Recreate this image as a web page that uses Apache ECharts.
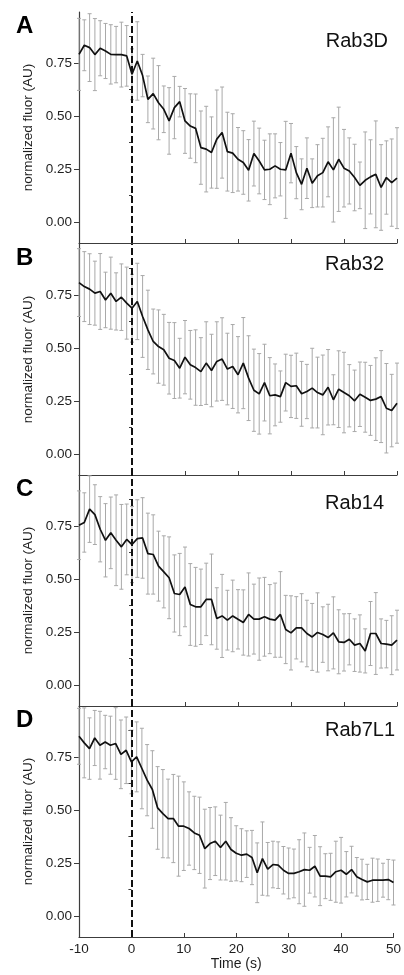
<!DOCTYPE html>
<html>
<head>
<meta charset="utf-8">
<script src="https://cdn.jsdelivr.net/npm/echarts@6/dist/echarts.min.js"></script>
<style>
  html, body { margin: 0; padding: 0; background: #fff; }
  #chart { width: 404px; height: 975px; }
</style>
</head>
<body>
<div id="chart"></div>
<script>
// time points (s)
const TIME = [-10, -9, -8, -7, -6, -5, -4, -3, -2, -1, 0, 1, 2, 3, 4, 5, 6, 7, 8, 9,
  10, 11, 12, 13, 14, 15, 16, 17, 18, 19, 20, 21, 22, 23, 24, 25, 26, 27, 28, 29,
  30, 31, 32, 33, 34, 35, 36, 37, 38, 39, 40, 41, 42, 43, 44, 45, 46, 47, 48, 49, 50]

const X_TICKS = [-10, 0, 10, 20, 30, 40, 50]
const Y_TICKS = [0, 0.25, 0.5, 0.75]
const Y_MINOR = [0.125, 0.375, 0.625, 0.875]

const PANEL_LETTERS = ['A', 'B', 'C', 'D']
const PANEL_NAMES = ['Rab3D', 'Rab32', 'Rab14', 'Rab7L1']

// mean normalized fluorescence
const A_MEAN = [0.79, 0.833, 0.822, 0.789, 0.819, 0.806, 0.79, 0.789, 0.789, 0.783,
  0.696, 0.759, 0.69, 0.578, 0.605, 0.562, 0.531, 0.476, 0.539, 0.567,
  0.476, 0.452, 0.441, 0.35, 0.343, 0.327, 0.39, 0.421, 0.331, 0.324,
  0.295, 0.28, 0.243, 0.322, 0.287, 0.245, 0.248, 0.264, 0.248, 0.245,
  0.324, 0.232, 0.177, 0.253, 0.182, 0.217, 0.232, 0.283, 0.245, 0.295,
  0.253, 0.24, 0.209, 0.172, 0.196, 0.212, 0.224, 0.162, 0.209, 0.185, 0.206]
const A_ERR = [0.17, 0.12, 0.16, 0.17, 0.13, 0.13, 0.14, 0.133, 0.153, 0.143,
  0.12, 0.185, 0.1, 0.11, 0.167, 0.175, 0.11, 0.157, 0.147, 0.072,
  0.153, 0.152, 0.162, 0.173, 0.202, 0.168, 0.232, 0.215, 0.186, 0.186,
  0.15, 0.15, 0.145, 0.153, 0.155, 0.14, 0.167, 0.151, 0.126, 0.229,
  0.14, 0.123, 0.12, 0.143, 0.115, 0.147, 0.162, 0.165, 0.246, 0.246,
  0.183, 0.156, 0.157, 0.11, 0.228, 0.175, 0.252, 0.202, 0.173, 0.206, 0.238]

const B_MEAN = [0.808, 0.789, 0.777, 0.758, 0.766, 0.726, 0.758, 0.719, 0.739, 0.711,
  0.687, 0.719, 0.648, 0.585, 0.53, 0.506, 0.491, 0.451, 0.44, 0.404,
  0.456, 0.42, 0.407, 0.388, 0.428, 0.393, 0.436, 0.447, 0.4, 0.412,
  0.373, 0.428, 0.357, 0.3, 0.283, 0.336, 0.274, 0.278, 0.27, 0.336,
  0.318, 0.321, 0.283, 0.294, 0.31, 0.289, 0.278, 0.314, 0.255, 0.305,
  0.289, 0.274, 0.25, 0.281, 0.267, 0.252, 0.258, 0.27, 0.215, 0.204, 0.239]
const B_ERR = [0.16, 0.165, 0.167, 0.151, 0.179, 0.131, 0.17, 0.135, 0.157, 0.17,
  0.16, 0.18, 0.193, 0.187, 0.153, 0.173, 0.167, 0.169, 0.179, 0.141,
  0.173, 0.162, 0.178, 0.16, 0.195, 0.171, 0.187, 0.195, 0.169, 0.198,
  0.18, 0.215, 0.2, 0.194, 0.19, 0.181, 0.18, 0.146, 0.121, 0.134,
  0.147, 0.154, 0.153, 0.128, 0.188, 0.167, 0.188, 0.178, 0.118, 0.181,
  0.19, 0.147, 0.145, 0.152, 0.165, 0.165, 0.195, 0.217, 0.211, 0.171, 0.189]

const C_MEAN = [0.753, 0.766, 0.829, 0.803, 0.734, 0.682, 0.717, 0.682, 0.651, 0.686,
  0.662, 0.69, 0.693, 0.619, 0.615, 0.56, 0.533, 0.505, 0.431, 0.426,
  0.462, 0.379, 0.368, 0.368, 0.403, 0.403, 0.313, 0.325, 0.305, 0.325,
  0.309, 0.294, 0.332, 0.31, 0.31, 0.321, 0.31, 0.305, 0.332, 0.261,
  0.245, 0.269, 0.269, 0.242, 0.226, 0.247, 0.237, 0.223, 0.245, 0.203,
  0.2, 0.215, 0.187, 0.195, 0.16, 0.242, 0.242, 0.195, 0.192, 0.187, 0.211]
const C_ERR = [0.162, 0.14, 0.157, 0.141, 0.154, 0.173, 0.169, 0.214, 0.2, 0.167,
  0.18, 0.183, 0.19, 0.191, 0.187, 0.165, 0.17, 0.193, 0.182, 0.194,
  0.188, 0.193, 0.186, 0.178, 0.171, 0.214, 0.145, 0.196, 0.141, 0.169,
  0.14, 0.154, 0.196, 0.165, 0.194, 0.186, 0.163, 0.175, 0.202, 0.161,
  0.175, 0.147, 0.161, 0.157, 0.158, 0.187, 0.131, 0.157, 0.17, 0.151,
  0.135, 0.121, 0.124, 0.135, 0.104, 0.151, 0.193, 0.116, 0.112, 0.139, 0.141]

const D_MEAN = [0.847, 0.816, 0.789, 0.839, 0.805, 0.82, 0.805, 0.813, 0.762, 0.781,
  0.726, 0.75, 0.695, 0.64, 0.596, 0.509, 0.482, 0.459, 0.459, 0.423,
  0.423, 0.412, 0.391, 0.38, 0.317, 0.341, 0.352, 0.322, 0.352, 0.313,
  0.295, 0.286, 0.291, 0.275, 0.203, 0.27, 0.22, 0.242, 0.239, 0.215,
  0.2, 0.2, 0.208, 0.218, 0.215, 0.234, 0.187, 0.187, 0.184, 0.208,
  0.215, 0.196, 0.218, 0.184, 0.171, 0.16, 0.168, 0.168, 0.168, 0.171, 0.157]
const D_ERR = [0.132, 0.165, 0.145, 0.13, 0.16, 0.126, 0.137, 0.169, 0.162, 0.157,
  0.15, 0.165, 0.19, 0.168, 0.183, 0.195, 0.208, 0.186, 0.208, 0.236,
  0.209, 0.173, 0.173, 0.18, 0.186, 0.17, 0.162, 0.153, 0.183, 0.15,
  0.13, 0.125, 0.11, 0.128, 0.141, 0.173, 0.126, 0.11, 0.11, 0.112,
  0.12, 0.115, 0.151, 0.173, 0.108, 0.145, 0.139, 0.106, 0.111, 0.144,
  0.155, 0.107, 0.11, 0.091, 0.096, 0.083, 0.104, 0.1, 0.08, 0.095, 0.106]

const MEANS = [A_MEAN, B_MEAN, C_MEAN, D_MEAN]
const ERRS = [A_ERR, B_ERR, C_ERR, D_ERR]

const FONT = '"Liberation Sans", Arial, sans-serif'
const AXIS_COLOR = '#3c3c3c'
const TEXT_COLOR = '#1e1e1e'
const GRID_TOPS = [12, 244, 475, 706]
const GRID_H = 231
const TITLE_POS = [[388, 41], [384, 264], [384, 503], [395, 730]]

const chart = echarts.init(document.getElementById('chart'), null, { renderer: 'canvas' })

// error bar with caps
function renderErr(params, api) {
  const x = api.value(0)
  const top = api.coord([x, api.value(2)])
  const bot = api.coord([x, api.value(1)])
  const cap = 2
  const style = { stroke: '#a9a9a9', lineWidth: 1 }
  return {
    type: 'group',
    children: [
      { type: 'line', shape: { x1: top[0], y1: top[1], x2: bot[0], y2: bot[1] }, style },
      { type: 'line', shape: { x1: top[0] - cap, y1: top[1], x2: top[0] + cap, y2: top[1] }, style },
      { type: 'line', shape: { x1: bot[0] - cap, y1: bot[1], x2: bot[0] + cap, y2: bot[1] }, style }
    ]
  }
}

const grid = [], xAxis = [], yAxis = [], series = [], graphic = []

MEANS.forEach((mean, i) => {
  const last = i === MEANS.length - 1
  grid.push({ left: 79, width: 318, top: GRID_TOPS[i], height: GRID_H })

  xAxis.push({
    type: 'value', gridIndex: i, min: -10, max: 50, interval: 10,
    axisLine: { show: true, onZero: false, lineStyle: { color: AXIS_COLOR, width: 1.2 } },
    axisTick: { show: true, inside: true, length: 4, customValues: X_TICKS, lineStyle: { color: AXIS_COLOR } },
    axisLabel: { show: last, customValues: X_TICKS, margin: 5, fontSize: 13.5, color: TEXT_COLOR, fontFamily: FONT },
    splitLine: { show: false },
    name: last ? 'Time (s)' : '', nameLocation: 'middle', nameGap: 19,
    nameTextStyle: { fontSize: 14, color: TEXT_COLOR, fontFamily: FONT }
  })

  // main y axis
  yAxis.push({
    type: 'value', gridIndex: i, min: -0.1, max: 0.99,
    axisLine: { show: true, onZero: false, lineStyle: { color: AXIS_COLOR, width: 1.2 } },
    axisTick: { show: true, length: 5, customValues: Y_TICKS, lineStyle: { color: AXIS_COLOR } },
    axisLabel: {
      customValues: Y_TICKS, margin: 7, fontSize: 13.5, color: TEXT_COLOR, fontFamily: FONT,
      formatter: v => v.toFixed(2)
    },
    splitLine: { show: false },
    name: 'normalized fluor (AU)', nameLocation: 'middle', nameGap: 44,
    nameTextStyle: { fontSize: 13.5, color: TEXT_COLOR, fontFamily: FONT }
  })
  // minor ticks
  yAxis.push({
    type: 'value', gridIndex: i, min: -0.1, max: 0.99, position: 'left',
    axisLine: { show: false },
    axisTick: { show: true, length: 3, customValues: Y_MINOR, lineStyle: { color: AXIS_COLOR } },
    axisLabel: { show: false },
    splitLine: { show: false }
  })

  series.push({
    type: 'custom', xAxisIndex: i, yAxisIndex: i * 2,
    renderItem: renderErr, silent: true, z: 2,
    encode: { x: 0, y: [1, 2] },
    data: TIME.map((t, k) => [t, mean[k] - ERRS[i][k], mean[k] + ERRS[i][k]])
  })
  series.push({
    type: 'line', xAxisIndex: i, yAxisIndex: i * 2,
    data: TIME.map((t, k) => [t, mean[k]]),
    showSymbol: false, symbol: 'none', z: 4,
    lineStyle: { color: '#111', width: 1.7 },
    markLine: {
      silent: true, symbol: 'none', animation: false,
      label: { show: false },
      lineStyle: { color: '#111', width: 2, type: [7, 3] },
      data: [{ xAxis: 0 }]
    }
  })

  graphic.push({
    type: 'text', left: 16, top: GRID_TOPS[i] + 2,
    style: { text: PANEL_LETTERS[i], font: 'bold 24px ' + FONT, fill: '#000' }
  })
  graphic.push({
    type: 'text', x: TITLE_POS[i][0], y: TITLE_POS[i][1],
    style: { text: PANEL_NAMES[i], font: '20px ' + FONT, fill: '#111', textAlign: 'right', textVerticalAlign: 'middle' }
  })
})

chart.setOption({
  animation: false,
  backgroundColor: '#fff',
  grid, xAxis, yAxis, series, graphic
})
</script>
</body>
</html>
